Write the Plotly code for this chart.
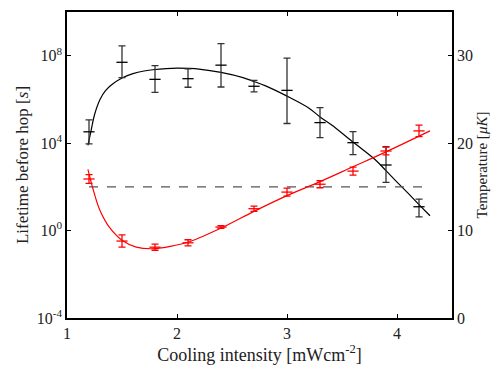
import plotly.graph_objects as go

# ---- data ----
intensity = [1.2, 1.5, 1.8, 2.1, 2.4, 2.7, 3.0, 3.3, 3.6, 3.9, 4.2]

# lifetime before hop [s] (centre, upper bound, lower bound)
lifetime    = [3.3e4, 5.0e7, 8.3e6, 8.9e6, 3.7e7, 4.0e6, 2.6e6, 8.7e4, 1.05e4, 1.0e3, 12.3]
lifetime_hi = [1.15e5, 2.8e8, 3.5e7, 2.5e7, 3.6e8, 7.4e6, 7.8e7, 4.2e5, 3.4e4, 6.9e3, 27.5]
lifetime_lo = [9.3e3, 1.0e7, 2.1e6, 3.6e6, 3.7e6, 2.2e6, 7.9e4, 1.8e4, 3.0e3, 1.6e2, 4.2]

# temperature [uK] and its error
temperature = [15.9, 8.8, 8.1, 8.6, 10.4, 12.5, 14.4, 15.3, 16.8, 19.1, 21.4]
temp_err    = [0.5, 0.7, 0.35, 0.35, 0.15, 0.3, 0.45, 0.4, 0.45, 0.45, 0.65]

# fitted curves
fit_life_x   = [1.19, 1.22, 1.25, 1.30, 1.35, 1.40, 1.50, 1.60, 1.70, 1.80, 1.90, 2.00,
                2.10, 2.20, 2.40, 2.60, 2.70, 2.80, 3.00, 3.20, 3.30, 3.40, 3.60, 3.80,
                3.90, 4.00, 4.10, 4.20, 4.30]
fit_life_exp = [3.9, 4.6, 5.3, 6.0, 6.4, 6.65, 6.98, 7.18, 7.30, 7.37, 7.41, 7.43,
                7.42, 7.39, 7.24, 7.00, 6.82, 6.63, 6.15, 5.60, 5.20, 4.85, 4.05, 3.25,
                2.74, 2.22, 1.71, 1.19, 0.68]

fit_temp_x = [1.19, 1.24, 1.30, 1.39, 1.51, 1.63, 1.80, 1.96, 2.12, 2.42, 2.70, 3.00,
              3.30, 3.60, 3.90, 4.30]
fit_temp   = [17.0, 14.6, 12.3, 10.3, 8.8, 8.1, 7.93, 8.25, 8.75, 10.4, 12.2, 14.0,
              15.6, 17.3, 19.0, 21.4]

threshold_x = [1.2, 4.3]
threshold_t = [15, 15]

x_ticks = [1, 2, 3, 4]
ly_ticks = [1e-4, 1, 1e4, 1e8]
ly_text = ["10<sup>-4</sup>", "10<sup>0</sup>", "10<sup>4</sup>", "10<sup>8</sup>"]
ry_ticks = [0, 10, 20, 30]

FONT = "Liberation Serif"

fig = go.Figure()

fig.add_trace(go.Scatter(
    x=fit_life_x, y=[10 ** e for e in fit_life_exp], mode="lines",
    line=dict(color="black", width=1.2, shape="spline"), yaxis="y", showlegend=False))

fig.add_trace(go.Scatter(
    x=intensity, y=lifetime, mode="markers",
    marker=dict(symbol="line-ew-open", size=8, color="black", line=dict(width=1.3, color="black")),
    error_y=dict(type="data", symmetric=False,
                 array=[h - c for h, c in zip(lifetime_hi, lifetime)],
                 arrayminus=[c - l for c, l in zip(lifetime, lifetime_lo)],
                 color="#333333", thickness=1.3, width=3.5),
    yaxis="y", showlegend=False))

fig.add_trace(go.Scatter(
    x=threshold_x, y=threshold_t, mode="lines",
    line=dict(color="#555555", width=1.3, dash="dash"), yaxis="y2", showlegend=False))

fig.add_trace(go.Scatter(
    x=fit_temp_x, y=fit_temp, mode="lines",
    line=dict(color="red", width=1.2, shape="spline"), yaxis="y2", showlegend=False))

fig.add_trace(go.Scatter(
    x=intensity, y=temperature, mode="markers",
    marker=dict(symbol="line-ew-open", size=8, color="red", line=dict(width=1.3, color="red")),
    error_y=dict(type="data", array=temp_err, color="red", thickness=1.3, width=3.5),
    yaxis="y2", showlegend=False))

axis_common = dict(showline=True, linecolor="black", linewidth=1.5, ticks="inside",
                   ticklen=4, tickcolor="black", showgrid=False, zeroline=False,
                   tickfont=dict(family=FONT, size=16, color="#222"))

fig.update_layout(
    width=503, height=366,
    margin=dict(l=67, r=51, t=10, b=47),
    plot_bgcolor="white", paper_bgcolor="white",
    font=dict(family=FONT, size=15, color="#222"),
    xaxis=dict(range=[1, 4.5], tickvals=x_ticks, mirror="ticks",
               title=dict(text="Cooling intensity [mWcm<sup>-2</sup>]", standoff=1,
                          font=dict(family=FONT, size=18)),
               **axis_common),
    yaxis=dict(type="log", range=[-4, 10], tickvals=ly_ticks, ticktext=ly_text,
               mirror="ticks",
               title=dict(text="Lifetime before hop [<i>s</i>]", standoff=4,
                          font=dict(family=FONT, size=17)),
               **axis_common),
    yaxis2=dict(range=[0, 35], tickvals=ry_ticks, overlaying="y", side="right",
                title=dict(text="Temperature [<i>μK</i>]", standoff=5,
                           font=dict(family=FONT, size=15)),
                **axis_common),
)

fig.write_html("out.html")
